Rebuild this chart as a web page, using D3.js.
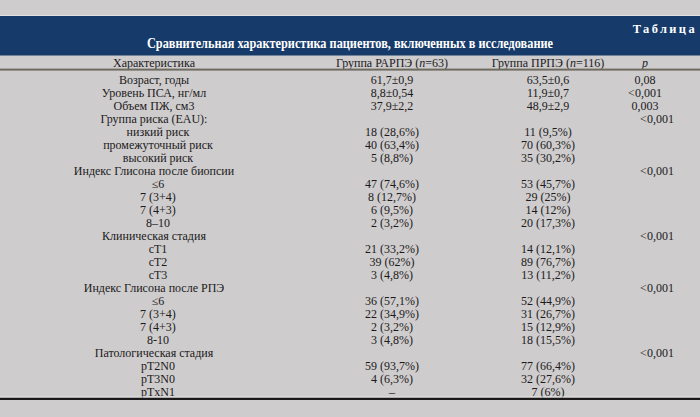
<!DOCTYPE html>
<html lang="ru">
<head>
<meta charset="utf-8">
<title>Таблица</title>
<script src="https://d3js.org/d3.v7.min.js"></script>
<style>
body { margin: 0; background: #cecccd; }
svg text { font-family: "Liberation Serif", "Times New Roman", serif; fill: #1c1a1a; }
svg .title { fill: #fff; font-weight: bold; }
</style>
</head>
<body>
<script>
// column headers
var headers = ["Характеристика", "Группа РАРПЭ (", "Группа ПРПЭ (", "p"];
var headerN = ["", "63", "116", ""];

var characteristics = [
  "Возраст, годы", "Уровень ПСА, нг/мл", "Объем ПЖ, см3",
  "Группа риска (EAU):", "низкий риск", "промежуточный риск", "высокий риск",
  "Индекс Глисона после биопсии", "≤6", "7 (3+4)", "7 (4+3)", "8–10",
  "Клиническая стадия", "cT1", "cT2", "cT3",
  "Индекс Глисона после РПЭ", "≤6", "7 (3+4)", "7 (4+3)", "8-10",
  "Патологическая стадия", "pT2N0", "pT3N0", "pTxN1"
];

var groupRARPE = [
  "61,7±0,9", "8,8±0,54", "37,9±2,2",
  "", "18 (28,6%)", "40 (63,4%)", "5 (8,8%)",
  "", "47 (74,6%)", "8 (12,7%)", "6 (9,5%)", "2 (3,2%)",
  "", "21 (33,2%)", "39 (62%)", "3 (4,8%)",
  "", "36 (57,1%)", "22 (34,9%)", "2 (3,2%)", "3 (4,8%)",
  "", "59 (93,7%)", "4 (6,3%)", "–"
];

var groupPRPE = [
  "63,5±0,6", "11,9±0,7", "48,9±2,9",
  "", "11 (9,5%)", "70 (60,3%)", "35 (30,2%)",
  "", "53 (45,7%)", "29 (25%)", "14 (12%)", "20 (17,3%)",
  "", "14 (12,1%)", "89 (76,7%)", "13 (11,2%)",
  "", "52 (44,9%)", "31 (26,7%)", "15 (12,9%)", "18 (15,5%)",
  "", "77 (66,4%)", "32 (27,6%)", "7 (6%)"
];

var pValues = [
  "0,08", "<0,001", "0,003",
  "<0,001", "", "", "",
  "<0,001", "", "", "", "",
  "<0,001", "", "", "",
  "<0,001", "", "", "", "",
  "<0,001", "", "", ""
];

var width = 700, height = 417;
var fontSize = 12;

var svg = d3.select("body").append("svg")
  .attr("width", width)
  .attr("height", height);

svg.append("rect").attr("width", width).attr("height", height).attr("fill", "#cecccd");

// blue title band
svg.append("rect").attr("x", 0).attr("y", 15).attr("width", width).attr("height", 1)
  .attr("fill", "#e2e0e1");
svg.append("rect").attr("x", 0).attr("y", 16).attr("width", width).attr("height", 39.5)
  .attr("fill", "#163a69");

svg.append("text").attr("class", "title")
  .attr("x", 697).attr("y", 32.5)
  .attr("text-anchor", "end")
  .style("font-size", "12.4px")
  .style("letter-spacing", "2.4px")
  .text("Таблица");

// the original type is a bit condensed, so squeeze it to the same width
svg.append("text").attr("class", "title")
  .attr("x", 350).attr("y", 48)
  .attr("text-anchor", "middle")
  .attr("textLength", 406)
  .attr("lengthAdjust", "spacingAndGlyphs")
  .style("font-size", "13.8px")
  .text("Сравнительная характеристика пациентов, включенных в исследование");

// columns
var cols = ["label", "rarpe", "prpe", "p"];
var x = d3.scaleOrdinal().domain(cols).range([154, 392, 548, 645]);

// rows
var y = d3.scaleBand().domain(d3.range(characteristics.length)).range([73.5, 398.5]);

// header
var head = svg.append("g").attr("class", "header");
cols.forEach(function (c, i) {
  var t = head.append("text")
    .attr("x", x(c)).attr("y", 63).attr("dy", "0.35em")
    .attr("text-anchor", "middle")
    .style("font-size", fontSize + "px");
  if (c === "p") {
    t.style("font-style", "italic").text(headers[i]);
  } else if (headerN[i]) {
    t.append("tspan").text(headers[i]);
    t.append("tspan").style("font-style", "italic").text("n");
    t.append("tspan").text("=" + headerN[i] + ")");
  } else {
    t.text(headers[i]);
  }
});

svg.append("rect").attr("x", 0).attr("y", 68.6).attr("width", width).attr("height", 2)
  .attr("fill", "#6f6a60");

// body rows
var rows = svg.selectAll("g.row")
  .data(characteristics)
  .enter()
  .append("g")
  .attr("class", "row")
  .attr("transform", function (d, i) {
    return "translate(0," + (y(i) + y.bandwidth() / 2) + ")";
  });

function isGroup(i) {
  return groupRARPE[i] === "" && groupPRPE[i] === "";
}

rows.append("text")
  .attr("x", function (d, i) { return isGroup(i) || i < 3 ? x("label") : x("label") + 4; })
  .attr("dy", "0.35em")
  .attr("text-anchor", "middle")
  .style("font-size", fontSize + "px")
  .text(function (d) { return d; });

rows.append("text")
  .attr("x", x("rarpe"))
  .attr("dy", "0.35em")
  .attr("text-anchor", "middle")
  .style("font-size", fontSize + "px")
  .text(function (d, i) { return groupRARPE[i]; });

rows.append("text")
  .attr("x", x("prpe"))
  .attr("dy", "0.35em")
  .attr("text-anchor", "middle")
  .style("font-size", fontSize + "px")
  .text(function (d, i) { return groupPRPE[i]; });

rows.append("text")
  .attr("x", function (d, i) { return isGroup(i) ? x("p") + 12 : x("p"); })
  .attr("dy", "0.35em")
  .attr("text-anchor", "middle")
  .style("font-size", fontSize + "px")
  .text(function (d, i) { return pValues[i]; });

// bottom rule
svg.append("rect").attr("x", 0).attr("y", 397.5).attr("width", width).attr("height", 2.5)
  .attr("fill", "#1a1818");
svg.append("rect").attr("x", 0).attr("y", 396.5).attr("width", width).attr("height", 1)
  .attr("fill", "#e4e2e3");
</script>
</body>
</html>
